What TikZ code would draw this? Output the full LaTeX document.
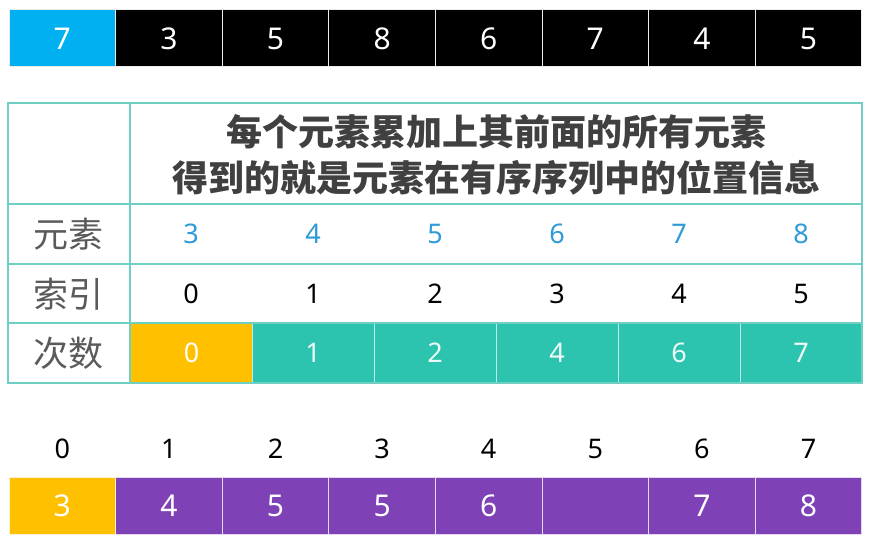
\documentclass[tikz,border=0pt]{standalone}
\usepackage{fontspec}
\setmainfont{Noto Sans}
\newfontfamily\cjk{Noto Sans CJK SC}
\definecolor{cyanbox}{HTML}{00B0F0}
\definecolor{orangebox}{HTML}{FFC000}
\definecolor{tealbox}{HTML}{2CC4AE}
\definecolor{tealline}{HTML}{6FCFC2}
\definecolor{purplebox}{HTML}{7E42B6}
\definecolor{bluenum}{HTML}{2E9AD8}
\definecolor{headgray}{HTML}{404040}
\definecolor{labgray}{HTML}{5A5A5A}
\tikzset{
  boxcell/.style={minimum width=106.6pt, minimum height=57pt, inner sep=0pt, text=white,
    draw=white!85!gray, line width=1pt, font=\fontsize{30}{30}\selectfont},
  tabcell/.style={minimum width=122pt, minimum height=60pt, inner sep=0pt,
    font=\fontsize{27}{27}\selectfont},
  idxnum/.style={inner sep=0pt, font=\fontsize{27}{27}\selectfont, text=black},
  rowlabel/.style={inner sep=0pt, text=labgray, font=\cjk\fontsize{35}{35}\selectfont},
  tabline/.style={draw=tealline, line width=1.6pt}
}
\begin{document}
\begin{tikzpicture}[x=1pt,y=-1pt]
\useasboundingbox (0,0) rectangle (876,548);
% top row
\foreach \v [count=\i from 0] in {7,3,5,8,6,7,4,5} {
  \pgfmathsetmacro{\cx}{9+106.6*(\i+0.5)}
  \node[boxcell, fill=black] (t\i) at (\cx,38.5) {\v};
}
\node[boxcell, fill=cyanbox] (t0) at (62.3,38.5) {7};
% table
\coordinate (tl) at (8,103);
\coordinate (br) at (862,383);
% count row fills
\node[tabcell, fill=orangebox, text=white, minimum height=60pt] (c0) at (191.5,353) {0};
\foreach \v [count=\i from 1] in {1,2,4,6,7} {
  \pgfmathsetmacro{\cx}{130+122*(\i+0.5)}
  \node[tabcell, fill=tealbox, text=white!92!tealbox, draw=white!70!tealbox, line width=1pt, minimum height=59pt] (c\i) at (\cx,353) {\v};
}
\draw[tabline] (tl) rectangle (br);
\draw[tabline] (8,204) -- (862,204);
\draw[tabline] (8,264) -- (862,264);
\draw[tabline] (8,323) -- (862,323);
\draw[tabline] (130,103) -- (130,383);
\node[align=center, text=headgray, font=\cjk\bfseries\fontsize{36}{46}\selectfont, inner sep=0pt] (head) at (496,155)
  {每个元素累加上其前面的所有元素\\得到的就是元素在有序序列中的位置信息};
\node[rowlabel] (l1) at (69,234) {元素};
\node[rowlabel] (l2) at (69,294) {索引};
\node[rowlabel] (l3) at (69,353) {次数};
\foreach \v [count=\i from 0] in {3,4,5,6,7,8} {
  \pgfmathsetmacro{\cx}{130+122*(\i+0.5)}
  \node[tabcell, text=bluenum] (e\i) at (\cx,234) {\v};
  \node[tabcell, text=black] (x\i) at (\cx,294) {\i};
}
% bottom
\foreach \i in {0,...,7} {
  \pgfmathsetmacro{\cx}{9+106.6*(\i+0.5)}
  \node[idxnum] (b\i) at (\cx,449) {\i};
}
\foreach \v [count=\i from 0] in {3,4,5,5,6,{},7,8} {
  \pgfmathsetmacro{\cx}{9+106.6*(\i+0.5)}
  \node[boxcell, fill=purplebox, draw=white!80!purplebox] (p\i) at (\cx,505.5) {\v};
}
\node[boxcell, fill=orangebox, draw=white!80!orangebox] (p0) at (62.3,505.5) {3};
\end{tikzpicture}
\end{document}
